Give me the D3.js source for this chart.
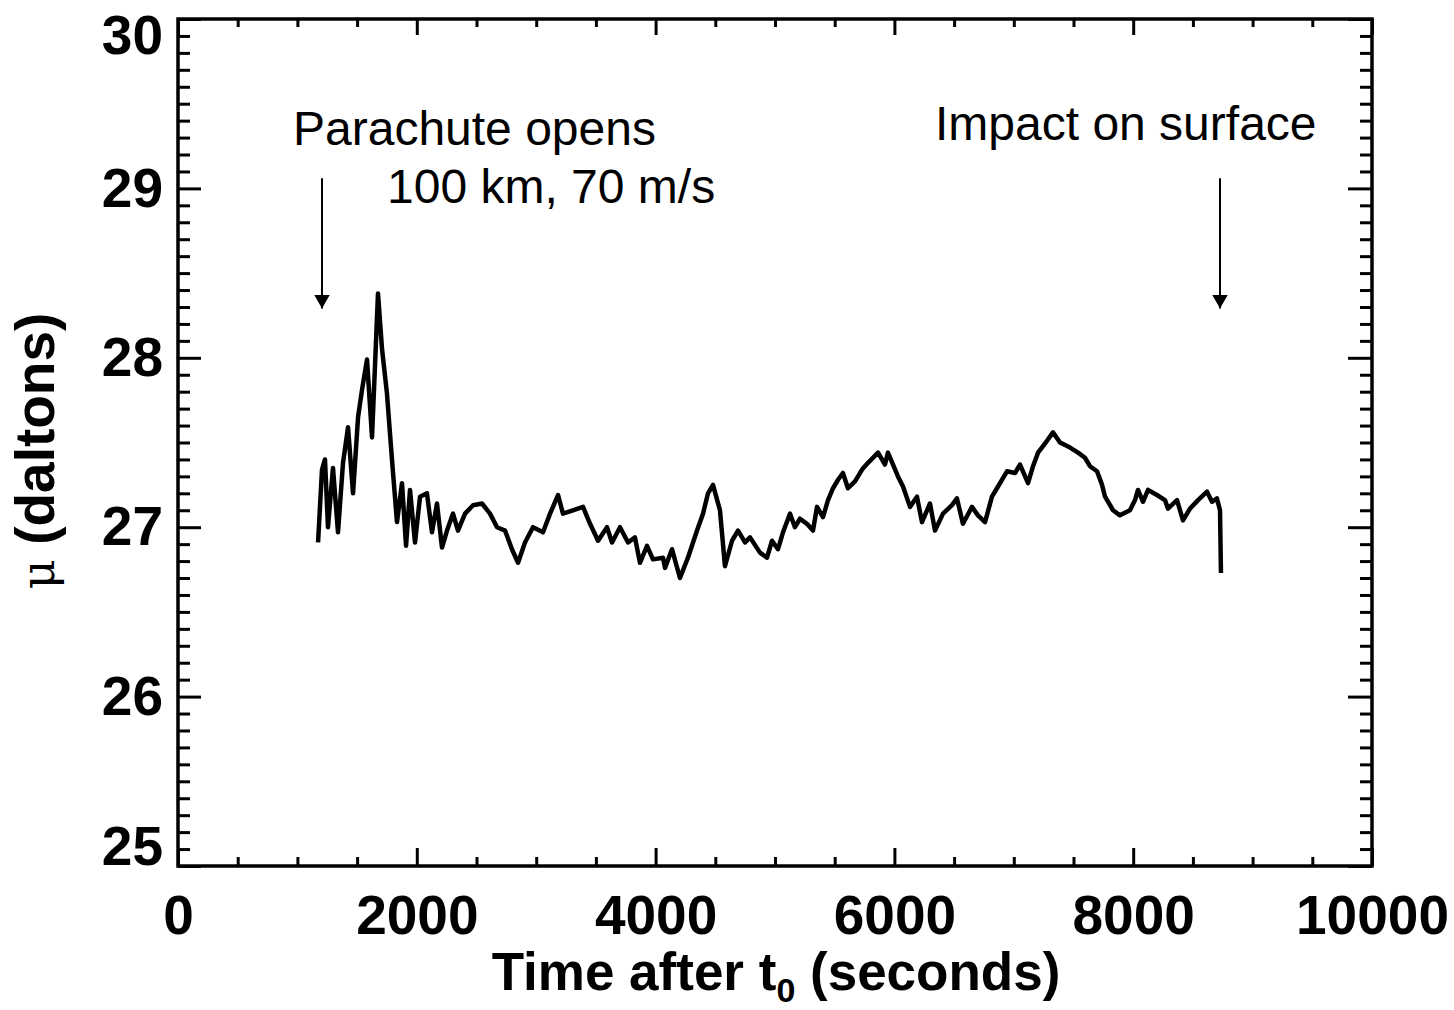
<!DOCTYPE html>
<html>
<head>
<meta charset="utf-8">
<script src="https://cdn.jsdelivr.net/npm/d3@7"></script>
<style>
  html, body { margin: 0; padding: 0; background: #fff; }
  svg { display: block; }
  text { font-family: "Liberation Sans", Arial, Helvetica, sans-serif; fill: #000; }
</style>
</head>
<body>
<svg id="chart" width="1454" height="1010"></svg>
<script>
// ---- Data ----
const timeSec = [
  1173, 1206, 1231, 1256, 1298, 1340, 1382, 1424, 1466, 1508, 1541, 1583, 1625, 1675, 1709, 1750,
  1792, 1834, 1876, 1910, 1943, 1985, 2027, 2085, 2127, 2169, 2211, 2253, 2303, 2345, 2404, 2471,
  2546, 2613, 2672, 2739, 2797, 2848, 2906, 2973, 3057, 3116, 3183, 3224, 3308, 3392, 3451, 3518,
  3593, 3635, 3702, 3769, 3827, 3869, 3928, 3978, 4062, 4079, 4137, 4204, 4271, 4347, 4397, 4439,
  4481, 4539, 4581, 4640, 4690, 4749, 4791, 4874, 4933, 4975, 5025, 5067, 5126, 5167, 5209, 5268,
  5318, 5352, 5402, 5444, 5486, 5528, 5569, 5611, 5670, 5729, 5779, 5863, 5921, 5946, 6030, 6072,
  6131, 6189, 6231, 6298, 6340, 6407, 6482, 6524, 6574, 6650, 6700, 6759, 6817, 6859, 6943, 7010,
  7052, 7119, 7161, 7203, 7278, 7328, 7387, 7471, 7538, 7596, 7638, 7697, 7739, 7764, 7831, 7889,
  7973, 8015, 8040, 8082, 8124, 8199, 8266, 8291, 8367, 8417, 8476, 8543, 8618, 8660, 8701, 8727,
  8735
];
const muDaltons = [
  26.91, 27.34, 27.40, 27.00, 27.35, 26.97, 27.38, 27.59, 27.20, 27.65, 27.81, 27.99, 27.53, 28.38, 28.05, 27.79,
  27.40, 27.03, 27.26, 26.89, 27.22, 26.91, 27.18, 27.20, 26.97, 27.14, 26.88, 26.98, 27.08, 26.98, 27.08, 27.13,
  27.14, 27.08, 27.00, 26.98, 26.87, 26.79, 26.91, 27.00, 26.97, 27.08, 27.19, 27.08, 27.10, 27.12, 27.02, 26.92,
  27.00, 26.91, 27.00, 26.91, 26.94, 26.79, 26.89, 26.81, 26.82, 26.76, 26.87, 26.70, 26.82, 26.98, 27.08, 27.20,
  27.25, 27.10, 26.77, 26.92, 26.98, 26.91, 26.94, 26.85, 26.82, 26.92, 26.87, 26.97, 27.08, 27.00, 27.05, 27.02,
  26.98, 27.12, 27.06, 27.16, 27.23, 27.28, 27.32, 27.23, 27.27, 27.34, 27.38, 27.44, 27.37, 27.44, 27.30, 27.24,
  27.12, 27.18, 27.03, 27.14, 26.98, 27.08, 27.13, 27.17, 27.02, 27.12, 27.07, 27.03, 27.18, 27.23, 27.33, 27.32,
  27.37, 27.26, 27.36, 27.44, 27.51, 27.56, 27.50, 27.47, 27.44, 27.41, 27.36, 27.33, 27.25, 27.18, 27.10, 27.07,
  27.10, 27.16, 27.22, 27.15, 27.22, 27.19, 27.16, 27.11, 27.16, 27.04, 27.11, 27.16, 27.21, 27.15, 27.17, 27.10,
  26.73
];
const xMajorTicks = [0, 2000, 4000, 6000, 8000, 10000];
const xTickLabels = ["0", "2000", "4000", "6000", "8000", "10000"];
const yMajorTicks = [25, 26, 27, 28, 29, 30];
const yTickLabels = ["25", "26", "27", "28", "29", "30"];
const annotations = [
  { lines: ["Parachute opens", "100 km, 70 m/s"], arrowT: 1206, arrowFrom: 29.06, arrowTo: 28.22 },
  { lines: ["Impact on surface"], arrowT: 8727, arrowFrom: 29.06, arrowTo: 28.22 }
];

// ---- Layout ----
const W = 1454, H = 1010;
const margin = { left: 178, top: 19, right: 82, bottom: 144 };
const iw = W - margin.left - margin.right;
const ih = H - margin.top - margin.bottom;

const svg = d3.select("#chart");
const g = svg.append("g").attr("transform", `translate(${margin.left},${margin.top})`);

const x = d3.scaleLinear().domain([0, 10000]).range([0, iw]);
const y = d3.scaleLinear().domain([25, 30]).range([ih, 0]);

const xMinor = d3.range(0, 10001, 500).filter(v => v % 2000 !== 0);
const yMinor = d3.range(250, 301, 1).map(v => v / 10).filter(v => Math.abs(v - Math.round(v)) > 1e-6);

const tickW = 3;
function styleAxis(sel) {
  sel.select(".domain").remove();
  sel.selectAll(".tick line").attr("stroke", "#000").attr("stroke-width", tickW);
}

// minor ticks
g.append("g").attr("transform", `translate(0,${ih})`)
  .call(d3.axisBottom(x).tickValues(xMinor).tickSize(-9).tickFormat(""))
  .call(styleAxis);
g.append("g")
  .call(d3.axisTop(x).tickValues(xMinor).tickSize(-8).tickFormat(""))
  .call(styleAxis);
g.append("g")
  .call(d3.axisLeft(y).tickValues(yMinor).tickSize(-12).tickFormat(""))
  .call(styleAxis);
g.append("g").attr("transform", `translate(${iw},0)`)
  .call(d3.axisRight(y).tickValues(yMinor).tickSize(-12).tickFormat(""))
  .call(styleAxis);

// major ticks with labels
const xAx = g.append("g").attr("transform", `translate(0,${ih})`)
  .call(d3.axisBottom(x).tickValues(xMajorTicks).tickSize(-18).tickPadding(29)
    .tickFormat((d, i) => xTickLabels[i]))
  .call(styleAxis);
xAx.selectAll(".tick text")
  .attr("font-family", "Liberation Sans, Arial, sans-serif")
  .attr("font-weight", "bold").attr("font-size", 55).attr("fill", "#000");

g.append("g")
  .call(d3.axisTop(x).tickValues(xMajorTicks).tickSize(-16).tickFormat(""))
  .call(styleAxis);

const yAx = g.append("g")
  .call(d3.axisLeft(y).tickValues(yMajorTicks).tickSize(-23).tickPadding(15)
    .tickFormat((d, i) => yTickLabels[i]))
  .call(styleAxis);
yAx.selectAll(".tick text")
  .attr("font-family", "Liberation Sans, Arial, sans-serif")
  .attr("font-weight", "bold").attr("font-size", 55).attr("fill", "#000")
  .attr("dy", d => d === 25 ? "-0.02em" : (d === 30 ? "0.62em" : "0.32em"));

g.append("g").attr("transform", `translate(${iw},0)`)
  .call(d3.axisRight(y).tickValues(yMajorTicks).tickSize(-24).tickFormat(""))
  .call(styleAxis);

// frame
g.append("rect").attr("x", 0).attr("y", 0).attr("width", iw).attr("height", ih)
  .attr("fill", "none").attr("stroke", "#000").attr("stroke-width", 3.5);

// data line
const data = timeSec.map((t, i) => ({ t, v: muDaltons[i] }));
g.append("path").datum(data)
  .attr("fill", "none").attr("stroke", "#000").attr("stroke-width", 4.5)
  .attr("stroke-linejoin", "round")
  .attr("d", d3.line().x(d => x(d.t)).y(d => y(d.v)));

// annotations
svg.append("defs").append("marker")
  .attr("id", "arrowhead").attr("viewBox", "0 0 16 14")
  .attr("refX", 8).attr("refY", 14).attr("markerWidth", 16).attr("markerHeight", 14)
  .attr("markerUnits", "userSpaceOnUse").attr("orient", "0")
  .append("path").attr("d", "M0,0 L16,0 L8,14 Z").attr("fill", "#000");

annotations.forEach(a => {
  g.append("line")
    .attr("x1", x(a.arrowT)).attr("x2", x(a.arrowT))
    .attr("y1", y(a.arrowFrom)).attr("y2", y(a.arrowTo) - 12)
    .attr("stroke", "#000").attr("stroke-width", 2)
    .attr("marker-end", "url(#arrowhead)");
});

const annFont = 48;
svg.append("text").attr("x", 293).attr("y", 145).attr("font-size", annFont)
  .text(annotations[0].lines[0]);
svg.append("text").attr("x", 387).attr("y", 203).attr("font-size", annFont)
  .text(annotations[0].lines[1]);
svg.append("text").attr("x", 935).attr("y", 140).attr("font-size", annFont)
  .text(annotations[1].lines[0]);

// axis titles
const xt = svg.append("text")
  .attr("x", margin.left + iw / 2 + 1).attr("y", 990)
  .attr("text-anchor", "middle").attr("font-weight", "bold").attr("font-size", 53);
xt.append("tspan").text("Time after t");
xt.append("tspan").attr("font-size", 34).attr("dy", 12).text("0");
xt.append("tspan").attr("dy", -12).text(" (seconds)");

const yt = svg.append("text")
  .attr("transform", `translate(54,${451}) rotate(-90)`)
  .attr("text-anchor", "middle").attr("font-size", 55);
yt.append("tspan").attr("font-family", "DejaVu Serif, serif").attr("font-size", 46).text("μ ");
yt.append("tspan").attr("font-weight", "bold").text("(daltons)");
</script>
</body>
</html>
